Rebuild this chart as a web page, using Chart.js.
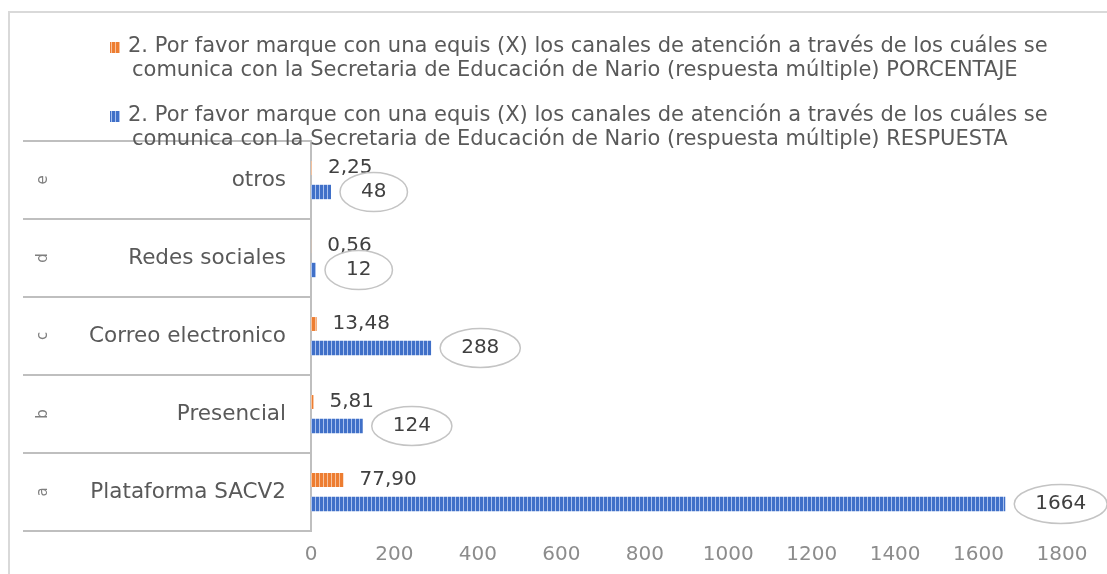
<!DOCTYPE html>
<html><head><meta charset="utf-8">
<script src="https://cdn.jsdelivr.net/npm/chart.js@4"></script>
<style>html,body{margin:0;padding:0;background:#fff}</style>
</head><body>
<canvas id="c" width="1107" height="574"></canvas>
<script>
// ---- data ----
const categories = ['otros', 'Redes sociales', 'Correo electronico', 'Presencial', 'Plataforma SACV2'];
const categoryLetters = ['e', 'd', 'c', 'b', 'a'];
const porcentaje = [2.25, 0.56, 13.48, 5.81, 77.90];
const respuesta = [48, 12, 288, 124, 1664];
const seriesPorcentaje = ['2. Por favor marque con una equis (X) los canales de atención a través de los cuáles se',
  'comunica con la Secretaria de Educación de Nario (respuesta múltiple) PORCENTAJE'];
const seriesRespuesta = ['2. Por favor marque con una equis (X) los canales de atención a través de los cuáles se',
  'comunica con la Secretaria de Educación de Nario (respuesta múltiple) RESPUESTA'];
const xMin = 0, xMax = 1800, xStep = 200;

const FONT = '"DejaVu Sans", sans-serif';

function stripe(dark, light) {
  const p = document.createElement('canvas');
  p.width = 4; p.height = 4;
  const g = p.getContext('2d');
  g.fillStyle = dark; g.fillRect(0, 0, 4, 4);
  g.fillStyle = light; g.fillRect(3, 0, 1, 4);
  return g.createPattern(p, 'repeat');
}
const ctx0 = document.getElementById('c').getContext('2d');
const orangeFill = stripe('#ED7D31', '#f7c29c');
const blueFill = stripe('#4070C8', '#a9c1ee');

const decor = {
  id: 'decor',
  beforeDraw(chart) {
    const c = chart.ctx;
    c.save();
    c.strokeStyle = '#d9d9d9'; c.lineWidth = 2;
    c.beginPath(); c.moveTo(9, 574); c.lineTo(9, 12); c.lineTo(1107, 12); c.stroke();
    c.restore();
  },
  afterDraw(chart) {
    const c = chart.ctx, y = chart.scales.y, area = chart.chartArea;
    c.save();
    // category table lines
    c.strokeStyle = '#bfbfbf'; c.lineWidth = 2;
    for (let i = 0; i <= categories.length; i++) {
      const py = Math.round(y.getPixelForValue(i - 0.5));
      c.beginPath(); c.moveTo(23, py); c.lineTo(area.left, py); c.stroke();
    }
    // category labels
    c.fillStyle = '#595959'; c.font = '21.5px ' + FONT;
    c.textAlign = 'right'; c.textBaseline = 'middle';
    categories.forEach((lab, i) => {
      c.fillText(lab, 286, y.getPixelForValue(i));
    });
    // outer letters (rotated)
    c.font = '15px ' + FONT; c.fillStyle = '#7f7f7f';
    c.textAlign = 'center';
    categoryLetters.forEach((l, i) => {
      c.save();
      c.translate(43, y.getPixelForValue(i));
      c.rotate(-Math.PI / 2);
      c.fillText(l, 0, 0);
      c.restore();
    });
    // legend
    const items = [[seriesPorcentaje, orangeFill, 47], [seriesRespuesta, blueFill, 116]];
    c.font = '21px ' + FONT; c.textAlign = 'left';
    items.forEach(([lines, fill, ly]) => {
      c.fillStyle = fill; c.fillRect(110, ly - 5, 10, 11);
      c.fillStyle = '#595959';
      c.fillText(lines[0], 128, ly);
      c.fillText(lines[1], 132, ly + 24);
    });
    // data labels
    const m0 = chart.getDatasetMeta(0), m1 = chart.getDatasetMeta(1);
    c.font = '20px ' + FONT; c.textBaseline = 'middle'; c.textAlign = 'left';
    m0.data.forEach((bar, i) => {
      c.fillStyle = '#404040';
      c.fillText(porcentaje[i].toFixed(2).replace('.', ','), bar.x + 16, bar.y);
    });
    m1.data.forEach((bar, i) => {
      const t = String(respuesta[i]);
      const w = c.measureText(t).width;
      const rx = (w + 42) / 2, ry = 19.5;
      const cx = bar.x + 9 + rx, cy = bar.y;
      c.strokeStyle = '#c4c4c4'; c.lineWidth = 1.5;
      c.beginPath(); c.ellipse(cx, cy, rx, ry, 0, 0, Math.PI * 2); c.stroke();
      c.fillStyle = '#404040'; c.textAlign = 'center';
      c.fillText(t, cx, cy);
      c.textAlign = 'left';
    });
    c.restore();
  }
};

new Chart(ctx0, {
  type: 'bar',
  data: {
    labels: categories,
    datasets: [
      { label: seriesPorcentaje.join(' '), data: porcentaje, backgroundColor: orangeFill,
        barPercentage: 0.58, categoryPercentage: 0.615 },
      { label: seriesRespuesta.join(' '), data: respuesta, backgroundColor: blueFill,
        barPercentage: 0.6, categoryPercentage: 0.615 }
    ]
  },
  options: {
    indexAxis: 'y',
    responsive: false,
    animation: false,
    devicePixelRatio: 1,
    layout: { padding: { top: 141, right: 45, left: 0, bottom: 0 } },
    plugins: { legend: { display: false }, tooltip: { enabled: false } },
    scales: {
      x: {
        min: xMin, max: xMax,
        ticks: { stepSize: xStep, color: '#8c8c8c', font: { family: FONT, size: 20 }, padding: 12, maxRotation: 0,
          callback: v => String(v) },
        grid: { display: false, drawTicks: false },
        border: { display: false },
        afterFit(s) { s.height = 43; }
      },
      y: {
        ticks: { display: false },
        grid: { display: false, drawTicks: false },
        border: { display: true, color: '#bfbfbf', width: 2 },
        afterFit(s) { s.width = 311; }
      }
    }
  },
  plugins: [decor]
});
</script>
</body></html>
